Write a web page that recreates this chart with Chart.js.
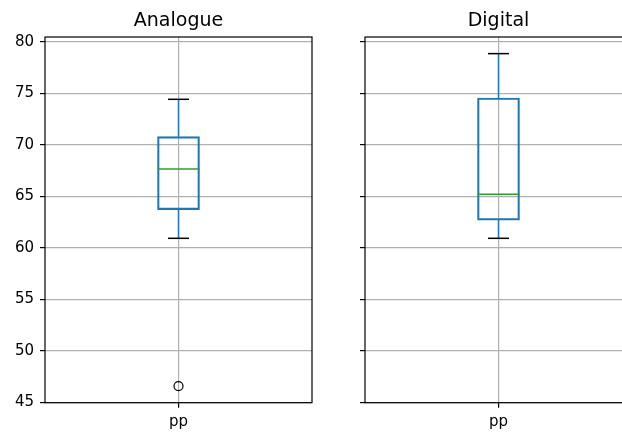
<!DOCTYPE html>
<html>
<head>
<meta charset="utf-8">
<script src="https://cdn.jsdelivr.net/npm/chart.js@4"></script>
<style>
  html, body { margin: 0; padding: 0; background: #fff; overflow: hidden; width: 622px; height: 434px; position: relative; }
  .panel { position: absolute; top: 0; height: 434px; overflow: hidden; }
  #leftWrap { left: 0; width: 320px; }
  #rightWrap { left: 320px; width: 302px; }
  canvas { display: block; }
</style>
</head>
<body>
<div class="panel" id="leftWrap"><canvas id="analogue" width="320" height="434"></canvas></div>
<div class="panel" id="rightWrap"><canvas id="digital" width="320" height="434"></canvas></div>
<script>
// values, one entry per panel
const panels = ['Analogue', 'Digital'];
const categories = ['pp'];
const whiskerLow = [60.93, 60.93];
const q1 = [63.71, 62.70];
const median = [67.65, 65.20];
const q3 = [70.79, 74.54];
const whiskerHigh = [74.41, 78.84];
const outliers = [[46.6], []];
const yTicks = [45, 50, 55, 60, 65, 70, 75, 80];

// shared y range, matplotlib style: data span plus 5% margin
const lo = Math.min(...whiskerLow, ...outliers.flat());
const hi = Math.max(...whiskerHigh, ...outliers.flat());
const margin = (hi - lo) * 0.05;

const FONT = "'DejaVu Sans', sans-serif";

// axes frame on top of everything, like matplotlib spines
const framePlugin = {
  id: 'frame',
  afterDraw(chart) {
    const { ctx, chartArea: a } = chart;
    ctx.save();
    ctx.strokeStyle = '#000';
    ctx.lineWidth = 1.2;
    ctx.strokeRect(a.left, a.top, a.right - a.left, a.bottom - a.top);
    ctx.restore();
  }
};

// panel title centred over the plot area, not the whole canvas
function panelTitle(i) {
  return {
    id: 'panelTitle',
    afterDraw(chart) {
      const { ctx, chartArea: a } = chart;
      ctx.save();
      ctx.font = '19px ' + FONT;
      ctx.fillStyle = '#000';
      ctx.textAlign = 'center';
      ctx.textBaseline = 'alphabetic';
      ctx.fillText(panels[i], (a.left + a.right) / 2, a.top - 11);
      ctx.restore();
    }
  };
}

function boxParts(i) {
  return {
    id: 'boxParts',
    afterDatasetsDraw(chart) {
      const { ctx, scales: { x, y } } = chart;
      const bar = chart.getDatasetMeta(0).data[0];
      const cx = x.getPixelForValue(0);
      const half = bar.width / 2;
      const seg = (x1, y1, x2, y2, color) => {
        ctx.strokeStyle = color;
        ctx.beginPath();
        ctx.moveTo(x1, y1);
        ctx.lineTo(x2, y2);
        ctx.stroke();
      };
      ctx.save();
      ctx.lineWidth = 1.5;
      // whiskers
      seg(cx, y.getPixelForValue(q3[i]), cx, y.getPixelForValue(whiskerHigh[i]), '#1f77b4');
      seg(cx, y.getPixelForValue(q1[i]), cx, y.getPixelForValue(whiskerLow[i]), '#1f77b4');
      // caps
      seg(cx - half / 2, y.getPixelForValue(whiskerHigh[i]), cx + half / 2, y.getPixelForValue(whiskerHigh[i]), '#000');
      seg(cx - half / 2, y.getPixelForValue(whiskerLow[i]), cx + half / 2, y.getPixelForValue(whiskerLow[i]), '#000');
      // median
      seg(cx - half, y.getPixelForValue(median[i]), cx + half, y.getPixelForValue(median[i]), '#2ca02c');
      ctx.restore();
    }
  };
}

function makePanel(id, i) {
  new Chart(document.getElementById(id).getContext('2d'), {
    type: 'bar',
    data: {
      labels: categories,
      datasets: [{
        data: [[q1[i], q3[i]]],
        backgroundColor: 'rgba(0,0,0,0)',
        borderColor: '#1f77b4',
        borderWidth: 1.5,
        borderSkipped: false,
        barThickness: 42
      }, {
        type: 'line',
        data: outliers[i],
        showLine: false,
        pointStyle: 'circle',
        pointRadius: 4.5,
        pointBorderWidth: 1.2,
        pointBorderColor: '#000',
        pointBackgroundColor: 'rgba(0,0,0,0)'
      }]
    },
    options: {
      responsive: false,
      animation: false,
      events: [],
      layout: { padding: { left: 0, right: 8, top: 37, bottom: 0 } },
      plugins: {
        legend: { display: false },
        tooltip: { enabled: false }
      },
      scales: {
        x: {
          grid: { offset: false, color: '#b0b0b0', lineWidth: 1.2, tickColor: '#000', tickLength: 5 },
          border: { display: false },
          ticks: { color: '#000', font: { family: FONT, size: 15 }, padding: 5 },
          afterFit(scale) { scale.height = 31.3; }
        },
        y: {
          min: lo - margin,
          max: hi + margin,
          afterBuildTicks(scale) { scale.ticks = yTicks.map(v => ({ value: v })); },
          grid: { color: '#b0b0b0', lineWidth: 1.2, tickColor: '#000', tickLength: 5 },
          border: { display: false },
          ticks: {
            color: i === 0 ? '#000' : 'rgba(0,0,0,0)',
            font: { family: FONT, size: 15 },
            padding: 6
          },
          afterFit(scale) { scale.width = 45; }
        }
      }
    },
    plugins: [boxParts(i), panelTitle(i), framePlugin]
  });
}

makePanel('analogue', 0);
makePanel('digital', 1);
</script>
</body>
</html>
